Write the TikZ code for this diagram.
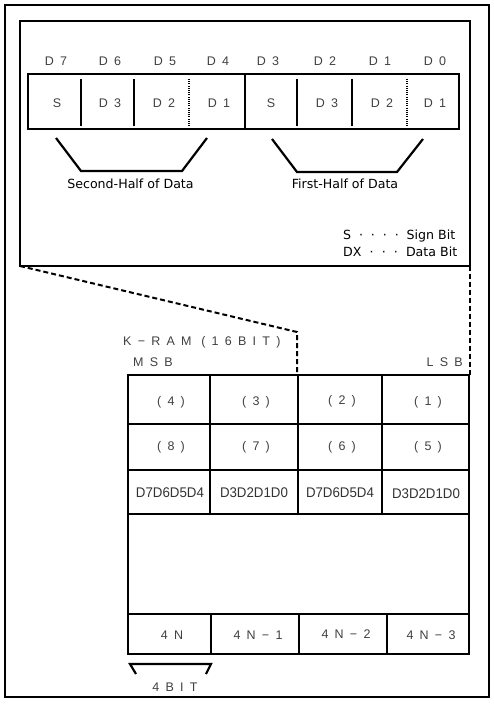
\documentclass[tikz,border=0pt]{standalone}
\usepackage{fontspec}
\setmainfont{Liberation Sans}
\newfontfamily\verdfont{DejaVu Sans}
\newfontfamily\widefont[LetterSpace=50]{Liberation Sans}
\newfontfamily\narrfont[FakeStretch=0.95]{Liberation Sans}
\begin{document}
\begin{tikzpicture}[x=1pt,y=-1pt,
  frame/.style={draw=black,line width=2.2pt},
  boxnode/.style={draw=black,line width=2.2pt,inner sep=0pt,outer sep=0pt,anchor=north west},
  div/.style={line width=2pt},
  dotdiv/.style={line width=2pt,dash pattern=on 1pt off 1.2pt},
  brk/.style={line width=2.2pt},
  conn/.style={line width=2pt,dash pattern=on 5pt off 3pt},
  hdr/.style={font=\widefont\fontsize{12.5}{14}\selectfont,text=black!75,inner sep=0pt},
  cell/.style={font=\narrfont\fontsize{14}{16}\selectfont,text=black!80,inner sep=0pt},
  lbl/.style={font=\verdfont\fontsize{12.6}{15}\selectfont,text=black,inner sep=0pt}]
\useasboundingbox (0,0) rectangle (494,706);
% outer frame
\draw[frame] (5,5) rectangle (489,697);
% inner box
\node[boxnode,minimum width=450pt,minimum height=245pt] (inbox) at (20,21) {};
% register row
\node[draw=black,line width=1.2pt,inner sep=0pt,outer sep=0pt,anchor=north west,minimum width=431pt,minimum height=55pt] (reg) at (28,74) {};
\draw[div] (81,79) -- (81,126);
\draw[div] (134,79) -- (134,126);
\draw[dotdiv] (189,79) -- (189,126);
\draw[div] (245,74) -- (245,129);
\draw[div] (297,79) -- (297,126);
\draw[div] (352,79) -- (352,126);
\draw[dotdiv] (407,79) -- (407,126);
% header labels
\node[hdr] (h7) at (56,61) {D7};
\node[hdr] (h6) at (110,61) {D6};
\node[hdr] (h5) at (165,61) {D5};
\node[hdr] (h4) at (218,61) {D4};
\node[hdr] (h3) at (268,61) {D3};
\node[hdr] (h2) at (325,61) {D2};
\node[hdr] (h1) at (380,61) {D1};
\node[hdr] (h0) at (435,61) {D0};
% cell labels
\node[hdr] (c7) at (57,103) {S};
\node[hdr] (c6) at (110,103) {D3};
\node[hdr] (c5) at (164,103) {D2};
\node[hdr] (c4) at (219,103) {D1};
\node[hdr] (c3) at (271,103) {S};
\node[hdr] (c2) at (327,103) {D3};
\node[hdr] (c1) at (382,103) {D2};
\node[hdr] (c0) at (435,103) {D1};
% brackets
\draw[brk,line join=miter] (56,138) -- (81,171) -- (182,171) -- (207,138);
\draw[brk,line join=miter] (272,139) -- (297,172) -- (397,172) -- (423,139);
\node[lbl] (sec) at (130.5,184) {Second-Half of Data};
\node[lbl] (fir) at (345,184) {First-Half of Data};
% legend
\node[lbl,anchor=west] (lg1) at (343,236) {\hbox to 112pt{S\hfill·\hfill·\hfill·\hfill·\hfill Sign Bit}};
\node[lbl,anchor=west] (lg2) at (343,252) {\hbox to 114pt{DX\hfill·\hfill·\hfill·\hfill Data Bit}};
% table
\node[boxnode,line width=2pt,minimum width=341pt,minimum height=279pt] (tbl) at (128,375) {};
\draw[div] (128,424) -- (469,424);
\draw[div] (128,470) -- (469,470);
\draw[div] (128,514) -- (469,514);
\draw[div] (128,614) -- (469,614);
\draw[div] (210,375) -- (210,514);
\draw[div] (298,375) -- (298,514);
\draw[div] (382,375) -- (382,514);
\draw[div] (211,614) -- (211,654);
\draw[div] (299,614) -- (299,654);
\draw[div] (387,614) -- (387,654);
% table labels
\node[hdr] (t4) at (171,402) {(4)};
\node[hdr] (t3) at (256,402) {(3)};
\node[hdr] (t2) at (342,401) {(2)};
\node[hdr] (t1) at (428,402) {(1)};
\node[hdr] (t8) at (171,447) {(8)};
\node[hdr] (t7) at (256,447) {(7)};
\node[hdr] (t6) at (342,447) {(6)};
\node[hdr] (t5) at (428,447) {(5)};
\node[cell] (d1) at (170,493) {D7D6D5D4};
\node[cell] (d2) at (254,493) {D3D2D1D0};
\node[cell] (d3) at (340,493) {D7D6D5D4};
\node[cell] (d4) at (426,494) {D3D2D1D0};
\node[hdr] (n0) at (172,635) {4N};
\node[hdr] (n1) at (258,635) {4N−1};
\node[hdr] (n2) at (346,634) {4N−2};
\node[hdr] (n3) at (431,635) {4N−3};
% K-RAM labels
\node[hdr,anchor=west] (kram) at (123,342) {K−RAM (16BIT)};
\node[hdr,anchor=west] (msb) at (133,362) {MSB};
\node[hdr,anchor=east] (lsb) at (463,362) {LSB};
% 4 BIT bracket
\draw[brk,line join=miter] (136,674) -- (130,664) -- (211,664) -- (206,674);
\node[hdr] (fb) at (175,687) {4BIT};
% dashed connectors
\coordinate (bend) at (297,332);
\draw[conn] (inbox.south west) -- (bend) -- (bend |- tbl.north);
\draw[conn] (inbox.south east) -- (inbox.south east |- tbl.north);
\end{tikzpicture}
\end{document}
